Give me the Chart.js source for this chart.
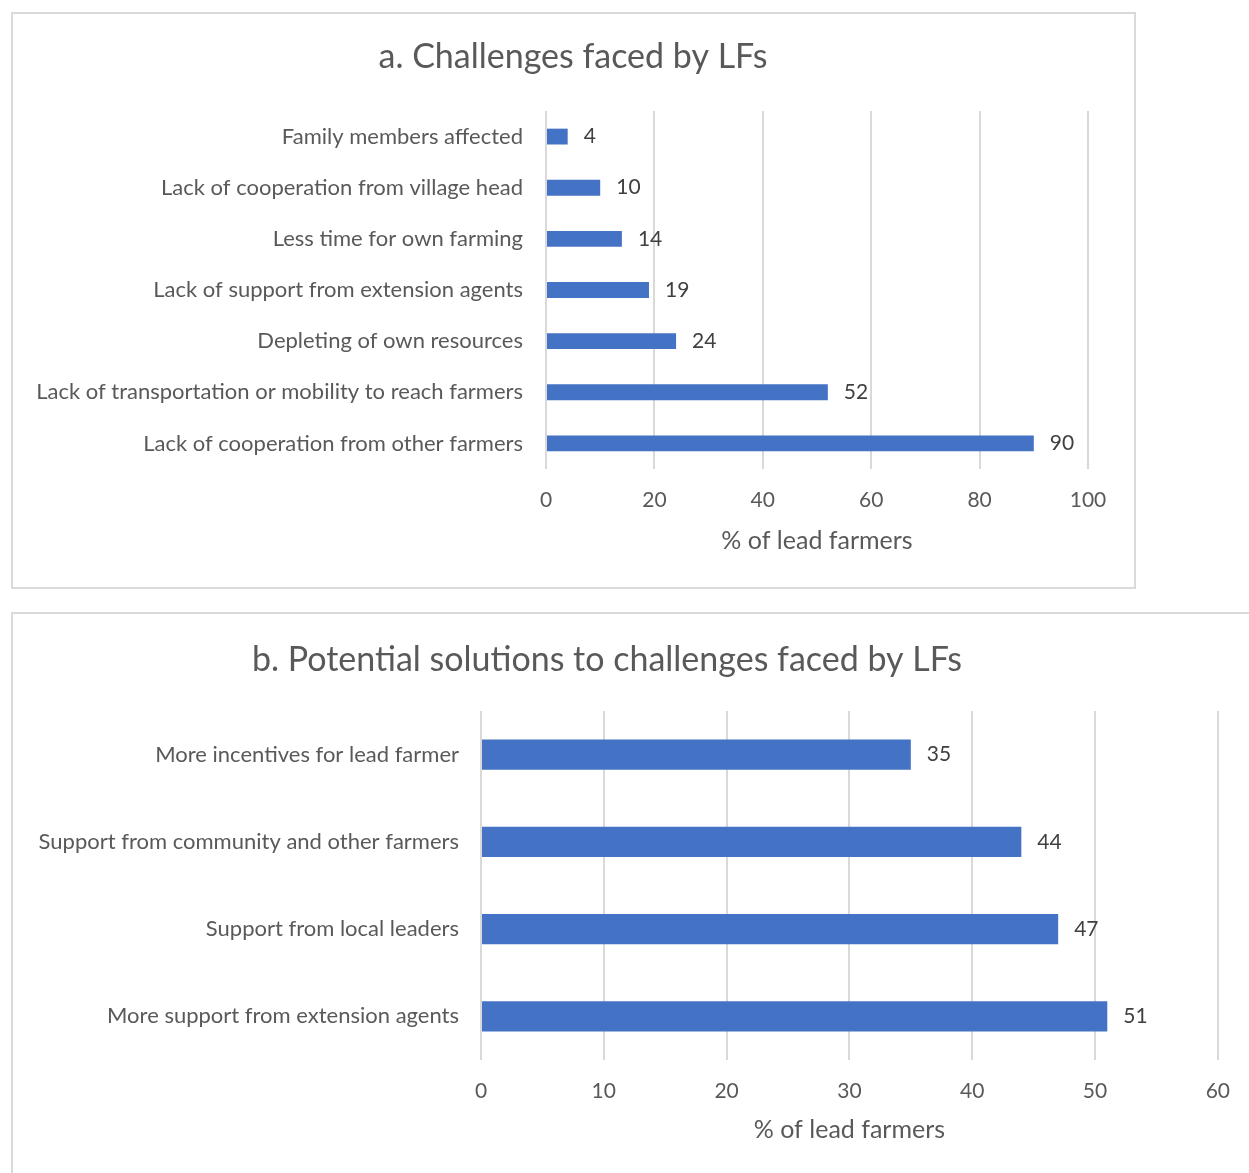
<!DOCTYPE html>
<html>
<head>
<meta charset="utf-8">
<script src="https://cdn.jsdelivr.net/npm/chart.js@4.4.1/dist/chart.umd.min.js"></script>
<style>
  body { margin: 0; background: #fff; width: 1249px; height: 1173px; overflow: hidden; position: relative; }
  .panel { position: absolute; box-sizing: border-box; }
  #panelA { left: 11px; top: 12px; width: 1125px; height: 577px; border: 2px solid #d9d9d9; }
  #panelB { left: 11px; top: 612px; width: 1238px; height: 561px; border-top: 2px solid #d9d9d9; border-left: 2px solid #d9d9d9; }
  canvas { display: block; }
</style>
</head>
<body>
<div class="panel" id="panelA"><canvas id="chartA"></canvas></div>
<div class="panel" id="panelB"><canvas id="chartB"></canvas></div>
<script>
// panel a data
const challengeLabels = [
  "Family members affected",
  "Lack of cooperation from village head",
  "Less time for own farming",
  "Lack of support from extension agents",
  "Depleting of own resources",
  "Lack of transportation or mobility to reach farmers",
  "Lack of cooperation from other farmers",
];
const challengeValues = [4, 10, 14, 19, 24, 52, 90];
const challengeTicks = [0, 20, 40, 60, 80, 100];

// panel b data
const solutionLabels = [
  "More incentives for lead farmer",
  "Support from community and other farmers",
  "Support from local leaders",
  "More support from extension agents",
];
const solutionValues = [35, 44, 47, 51];
const solutionTicks = [0, 10, 20, 30, 40, 50, 60];

const FONT = "Lato";
const TEXT = "#595959";
const BLUE = "#4472C4";
const GRID = "#d9d9d9";

// draws value next to each bar end
const valueLabels = {
  id: "valueLabels",
  afterDatasetsDraw(chart) {
    const ctx = chart.ctx;
    const meta = chart.getDatasetMeta(0);
    ctx.save();
    ctx.font = "21px " + FONT;
    ctx.fillStyle = "#404040";
    ctx.textAlign = "left";
    ctx.textBaseline = "middle";
    meta.data.forEach((bar, i) => {
      ctx.fillText(chart.data.datasets[0].data[i], bar.x + 16, bar.y);
    });
    ctx.restore();
  },
};

// title centred on a given x, since panel b is cropped on the right
const panelTitle = {
  id: "panelTitle",
  afterDraw(chart, args, opts) {
    const ctx = chart.ctx;
    ctx.save();
    ctx.font = opts.size + "px " + FONT;
    ctx.fillStyle = TEXT;
    ctx.textAlign = "center";
    ctx.textBaseline = "middle";
    ctx.fillText(opts.text, opts.x, opts.y);
    ctx.restore();
  },
};

function makeChart(id, w, h, labels, values, ticks, cfg) {
  const canvas = document.getElementById(id);
  canvas.width = w;
  canvas.height = h;
  canvas.style.width = w + "px";
  canvas.style.height = h + "px";
  return new Chart(canvas, {
    type: "bar",
    data: {
      labels: labels,
      datasets: [
        {
          data: values,
          backgroundColor: BLUE,
          borderWidth: 0,
          categoryPercentage: 1,
          barPercentage: cfg.barPct,
        },
      ],
    },
    options: {
      indexAxis: "y",
      responsive: false,
      animation: false,
      layout: { padding: { left: 0, right: cfg.padRight, top: 97, bottom: 0 } },
      plugins: {
        legend: { display: false },
        tooltip: { enabled: false },
        panelTitle: { text: cfg.title, x: cfg.titleX, y: cfg.titleY, size: 34 },
      },
      scales: {
        x: {
          min: 0,
          max: ticks[ticks.length - 1],
          afterBuildTicks: (scale) => {
            scale.ticks = ticks.map((v) => ({ value: v }));
          },
          afterFit: (scale) => {
            scale.height = cfg.xHeight;
          },
          grid: { color: GRID, lineWidth: 2, drawTicks: false },
          border: { display: false },
          ticks: { padding: 19, color: TEXT, font: { family: FONT, size: 21 } },
          title: {
            display: true,
            text: "% of lead farmers",
            color: TEXT,
            font: { family: FONT, size: 25 },
            padding: { top: 0, bottom: cfg.xTitlePad },
          },
        },
        y: {
          afterFit: (scale) => {
            scale.width = cfg.yWidth;
          },
          grid: { display: false, drawTicks: false },
          border: { display: false },
          ticks: { padding: cfg.yPad, color: TEXT, font: { family: FONT, size: 22 } },
        },
      },
    },
    plugins: [valueLabels, panelTitle],
  });
}

makeChart("chartA", 1121, 573, challengeLabels, challengeValues, challengeTicks, {
  title: "a. Challenges faced by LFs",
  titleX: 560,
  titleY: 43,
  barPct: 0.31,
  padRight: 46,
  xHeight: 118,
  xTitlePad: 31,
  yWidth: 533,
  yPad: 23,
});

makeChart("chartB", 1236, 559, solutionLabels, solutionValues, solutionTicks, {
  title: "b. Potential solutions to challenges faced by LFs",
  titleX: 594,
  titleY: 46,
  barPct: 0.344,
  padRight: 31,
  xHeight: 113,
  xTitlePad: 28,
  yWidth: 468,
  yPad: 22,
});
</script>
</body>
</html>
